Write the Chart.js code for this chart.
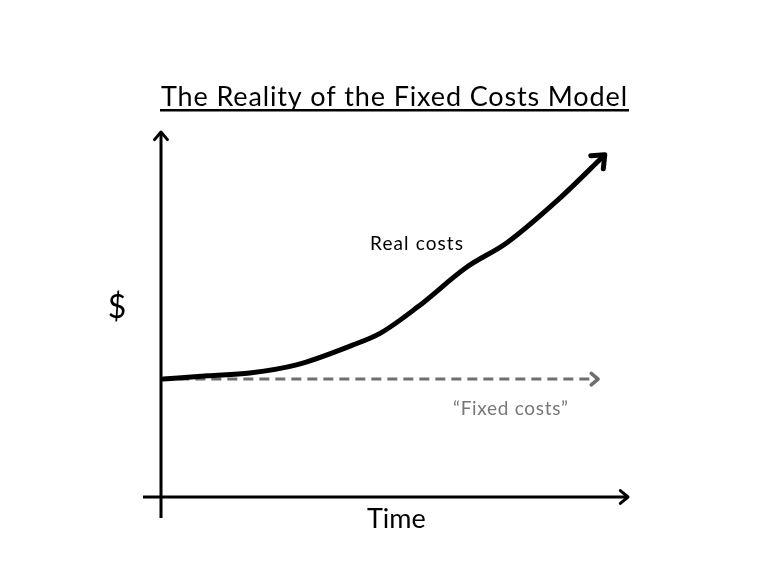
<!DOCTYPE html>
<html>
<head>
<meta charset="utf-8">
<script src="https://cdn.jsdelivr.net/npm/chart.js@4"></script>
<style>
  html, body { margin: 0; padding: 0; background: #fff; }
  #wrap { width: 770px; height: 578px; }
</style>
</head>
<body>
<div id="wrap"><canvas id="costChart" width="770" height="578"></canvas></div>
<script>
// Data (time and $ in arbitrary units, 0-100)
const realTime = [0.5, 10, 19, 29, 41, 47, 55, 65.5, 74, 85, 94.6];
const realCost = [32.3, 33.2, 34, 36.2, 41.6, 44.9, 52.1, 63, 69.6, 81.4, 93.2];
const fixedTime = [0.5, 93.6];
const fixedCost = [32.3, 32.3];
const seriesLabels = ["Real costs", "\u201CFixed costs\u201D"];
const titleText = "The Reality of the Fixed Costs Model";
const xAxisLabel = "Time";
const yAxisLabel = "$";

const FONT = "Lato, 'Open Sans', sans-serif";

function toPoints(xs, ys) {
  return xs.map((x, i) => ({ x: x, y: ys[i] }));
}

function arrowHead(ctx, x0, y0, x1, y1, size, color, width) {
  const a = Math.atan2(y1 - y0, x1 - x0);
  ctx.save();
  ctx.strokeStyle = color;
  ctx.lineWidth = width;
  ctx.lineCap = "round";
  ctx.lineJoin = "round";
  ctx.beginPath();
  ctx.moveTo(x1 - size * Math.cos(a - 0.7), y1 - size * Math.sin(a - 0.7));
  ctx.lineTo(x1, y1);
  ctx.lineTo(x1 - size * Math.cos(a + 0.7), y1 - size * Math.sin(a + 0.7));
  ctx.stroke();
  ctx.restore();
}

// text spread out to a given width (the original font is wider than Lato)
function fitText(ctx, text, left, y, width) {
  ctx.letterSpacing = "0px";
  const w = ctx.measureText(text).width;
  const sp = Math.max(0, (width - w) / (text.length - 1));
  ctx.letterSpacing = sp + "px";
  ctx.textAlign = "left";
  ctx.fillText(text, left, y);
  ctx.letterSpacing = "0px";
}

// Hand-drawn look: axes, arrows and text
const sketchPlugin = {
  id: "sketch",
  beforeDatasetsDraw(chart) {
    const { ctx, chartArea: a } = chart;
    ctx.save();
    ctx.strokeStyle = "#000";
    ctx.lineWidth = 3;
    ctx.beginPath();
    ctx.moveTo(a.left, a.bottom + 21);
    ctx.lineTo(a.left, a.top);
    ctx.moveTo(a.left - 18, a.bottom);
    ctx.lineTo(a.right, a.bottom);
    ctx.stroke();
    ctx.restore();
    arrowHead(ctx, a.left, a.bottom, a.left, a.top, 10, "#000", 3);
    arrowHead(ctx, a.left, a.bottom, a.right, a.bottom, 10, "#000", 3);
  },
  afterDatasetsDraw(chart) {
    const { ctx } = chart;
    const xs = chart.scales.x, ys = chart.scales.y;
    // arrow heads at series ends
    const n = realTime.length;
    arrowHead(ctx, xs.getPixelForValue(realTime[n - 2]), ys.getPixelForValue(realCost[n - 2]),
      xs.getPixelForValue(realTime[n - 1]) + 2, ys.getPixelForValue(realCost[n - 1]) - 2, 14, "#000", 5);
    arrowHead(ctx, xs.getPixelForValue(fixedTime[0]), ys.getPixelForValue(fixedCost[0]),
      xs.getPixelForValue(fixedTime[1]), ys.getPixelForValue(fixedCost[1]), 9, "#6e6e6e", 3.5);

    ctx.save();
    ctx.textBaseline = "alphabetic";
    // title + underline
    ctx.fillStyle = "#000";
    ctx.font = "27px " + FONT;
    fitText(ctx, titleText, 161, 106, 466);
    ctx.fillRect(160, 109, 469, 2.5);
    // series labels
    ctx.font = "19px " + FONT;
    fitText(ctx, seriesLabels[0], 370, 250, 93);
    ctx.fillStyle = "#777";
    fitText(ctx, seriesLabels[1], 453, 415, 115);
    // axis labels
    ctx.fillStyle = "#000";
    ctx.font = "27px " + FONT;
    fitText(ctx, xAxisLabel, 367, 528, 57);
    ctx.font = "32px " + FONT;
    ctx.textAlign = "center";
    ctx.fillText(yAxisLabel, 117, 318);
    ctx.restore();
  }
};

new Chart(document.getElementById("costChart"), {
  type: "line",
  data: {
    datasets: [
      {
        label: seriesLabels[1],
        data: toPoints(fixedTime, fixedCost),
        borderColor: "#6e6e6e",
        borderWidth: 3,
        borderDash: [10, 6],
        pointRadius: 0,
        tension: 0,
        order: 2,
      },
      {
        label: seriesLabels[0],
        data: toPoints(realTime, realCost),
        borderColor: "#000",
        borderWidth: 5,
        borderCapStyle: "round",
        pointRadius: 0,
        tension: 0.4,
        cubicInterpolationMode: "monotone",
        order: 1,
      },
    ],
  },
  options: {
    responsive: false,
    animation: false,
    layout: { padding: { left: 161, right: 142, top: 132, bottom: 81 } },
    plugins: { legend: { display: false }, tooltip: { enabled: false } },
    scales: {
      x: { type: "linear", min: 0, max: 100, display: false },
      y: { type: "linear", min: 0, max: 100, display: false },
    },
  },
  plugins: [sketchPlugin],
});
</script>
</body>
</html>
